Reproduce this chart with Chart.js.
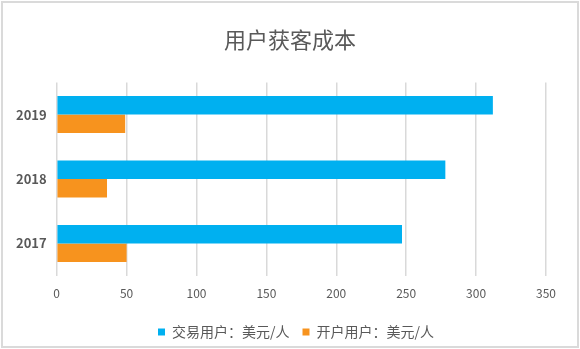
<!DOCTYPE html>
<html>
<head>
<meta charset="utf-8">
<script src="https://cdn.jsdelivr.net/npm/chart.js@4"></script>
<style>
  body { margin: 0; background: #fff; }
  #wrap { position: absolute; left: 0; top: 0; width: 580px; height: 349px; }
  #frame { position: absolute; left: 1px; top: 1px; width: 578px; height: 347px;
           box-sizing: border-box; border: 2px solid #dadada; pointer-events: none; }
</style>
</head>
<body>
<div id="wrap">
  <canvas id="myChart" width="580" height="349"></canvas>
  <div id="frame"></div>
</div>
<script>
var years = ["2019", "2018", "2017"];
var tradeUser = [312, 278, 247];
var openUser = [49, 36, 50];
var seriesNames = ["交易用户：美元/人", "开户用户：美元/人"];
var xTicks = [0, 50, 100, 150, 200, 250, 300, 350];

var font = "'Noto Sans CJK SC', 'Noto Sans', sans-serif";

// title and legend in the original are centred on the whole box, not the padded area
var boxShift = {
  id: "boxShift",
  afterLayout: function (chart) {
    chart.legend.left += 20;
    chart.legend.right += 20;
    chart.titleBlock.left += 14;
    chart.titleBlock.right += 14;
  }
};

var ctx = document.getElementById("myChart").getContext("2d");
var myChart = new Chart(ctx, {
  type: "bar",
  data: {
    labels: years,
    datasets: [{
      label: seriesNames[0],
      data: tradeUser,
      backgroundColor: "#00B0F0",
      categoryPercentage: 0.575,
      barPercentage: 1
    }, {
      label: seriesNames[1],
      data: openUser,
      backgroundColor: "#F7931E",
      categoryPercentage: 0.575,
      barPercentage: 1
    }]
  },
  plugins: [boxShift],
  options: {
    responsive: false,
    animation: false,
    indexAxis: "y",
    layout: { padding: { top: 14, left: 6, right: 34, bottom: 0 } },
    plugins: {
      title: {
        display: true,
        text: "用户获客成本",
        color: "#595959",
        font: { family: font, size: 22, weight: "normal" },
        padding: { top: 12, bottom: 30 }
      },
      legend: {
        position: "bottom",
        labels: {
          color: "#595959",
          font: { family: font, size: 14 },
          boxWidth: 7,
          boxHeight: 7,
          padding: 13
        }
      },
      tooltip: { enabled: false }
    },
    scales: {
      x: {
        min: xTicks[0],
        max: xTicks[xTicks.length - 1],
        afterBuildTicks: function (axis) {
          axis.ticks = xTicks.map(function (v) { return { value: v }; });
        },
        grid: { color: "#d9d9d9", lineWidth: 1.5, drawTicks: false },
        border: { display: false },
        ticks: { color: "#595959", font: { family: font, size: 12 }, padding: 11 }
      },
      y: {
        grid: { display: false, drawTicks: false },
        border: { display: false },
        ticks: { color: "#595959", font: { family: font, size: 13, weight: "600" }, padding: 10 }
      }
    }
  }
});
</script>
</body>
</html>
